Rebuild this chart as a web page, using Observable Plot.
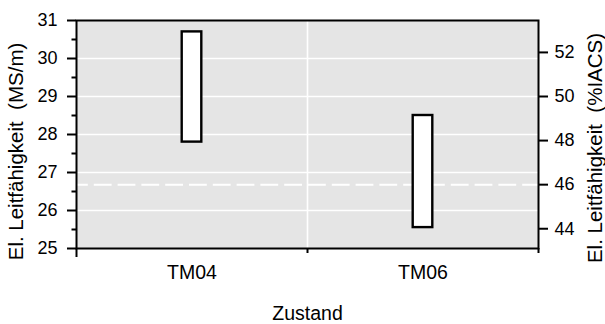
<!DOCTYPE html>
<html>
<head>
<meta charset="utf-8">
<script src="https://cdn.jsdelivr.net/npm/d3@7"></script>
<script src="https://cdn.jsdelivr.net/npm/@observablehq/plot@0.6"></script>
<style>
  html, body { margin: 0; padding: 0; background: #ffffff; }
  #chart svg { display: block; }
</style>
</head>
<body>
<div id="chart"></div>
<script>
// ---- data ----
const categories = ["TM04", "TM06"];
const lowValues = [27.8, 25.55];    // MS/m
const highValues = [30.7, 28.5];    // MS/m
const leftTicks = [25, 26, 27, 28, 29, 30, 31];
const leftMinorTicks = [25.5, 26.5, 27.5, 28.5, 29.5, 30.5];
const rightTicks = [44, 46, 48, 50, 52];   // %IACS
const referenceIACS = 46;                   // dashed line
const msPerIACS = 0.58;                     // 1 %IACS = 0.58 MS/m
const xTitle = "Zustand";
const leftTitle = "El. Leitfähigkeit \u00a0(MS/m)";
const rightTitle = "El. Leitfähigkeit \u00a0(%IACS)";

// ---- layout ----
const W = 605, H = 324;
const mL = 76, mR = 67, mT = 20, mB = 76;
const pxPerUnit = (W - mL - mR) / categories.length;
const barHalf = 9.8 / pxPerUnit;

const table = categories.map((c, i) => ({
  cat: c, pos: i + 0.5, low: lowValues[i], high: highValues[i]
}));
const boundaries = d3.range(categories.length + 1);
const gridVals = leftTicks.slice(1, -1);
const font = "'Liberation Sans', Arial, sans-serif";

const chart = Plot.plot({
  width: W, height: H,
  marginLeft: mL, marginRight: mR, marginTop: mT, marginBottom: mB,
  style: { fontFamily: font, background: "#ffffff", color: "#000000", overflow: "visible" },
  x: { domain: [0, categories.length], axis: null },
  y: { domain: [25, 31], axis: null },
  marks: [
    Plot.frame({ fill: "#e5e5e5" }),
    Plot.ruleY(gridVals, { stroke: "#ffffff", strokeWidth: 1.6 }),
    Plot.ruleX(boundaries.slice(1, -1), { stroke: "#ffffff", strokeWidth: 1.6 }),
    Plot.ruleY([referenceIACS * msPerIACS], {
      stroke: "#ffffff", strokeWidth: 2, strokeDasharray: "17.8,6", strokeDashoffset: 6
    }),
    Plot.rect(table, {
      x1: d => d.pos - barHalf, x2: d => d.pos + barHalf,
      y1: "low", y2: "high",
      fill: "#ffffff", stroke: "#000000", strokeWidth: 2.4
    }),
    Plot.frame({ stroke: "#000000", strokeWidth: 2 }),
    // left axis
    Plot.axisY(leftTicks, {
      anchor: "left", tickSize: 9, tickPadding: 10, fontSize: 18,
      strokeWidth: 2, label: null
    }),
    Plot.axisY(leftMinorTicks, {
      anchor: "left", tickSize: 4.5, fill: "none", strokeWidth: 2, label: null
    }),
    // right axis (%IACS)
    Plot.axisY(rightTicks.map(p => p * msPerIACS), {
      anchor: "right", tickSize: 9, tickPadding: 7, fontSize: 18,
      strokeWidth: 2, label: null,
      tickFormat: v => String(Math.round(v / msPerIACS))
    }),
    // bottom ticks at category boundaries
    Plot.axisX(boundaries.slice(1), {
      anchor: "bottom", tickSize: 5, fill: "none", strokeWidth: 2, label: null
    }),
    Plot.axisX(boundaries.slice(0, 1), {
      anchor: "bottom", tickSize: 9, fill: "none", strokeWidth: 2, label: null
    }),
    // category labels
    Plot.text(table, {
      x: "pos", text: "cat", frameAnchor: "bottom", lineAnchor: "middle", dy: 24,
      fontSize: 19.5, fill: "#000000"
    }),
    Plot.text([xTitle], {
      frameAnchor: "bottom", lineAnchor: "middle", dy: 65.5, fontSize: 19.5, fill: "#000000"
    }),
    Plot.text([leftTitle], {
      frameAnchor: "left", textAnchor: "middle", lineAnchor: "middle",
      rotate: -90, dx: -60.5, dy: 17,
      fontSize: 20.5, fill: "#000000"
    }),
    Plot.text([rightTitle], {
      frameAnchor: "right", textAnchor: "middle", lineAnchor: "middle",
      rotate: -90, dx: 56.5, dy: 13.5,
      fontSize: 20.5, fill: "#000000"
    })
  ]
});

document.getElementById("chart").appendChild(chart);
</script>
</body>
</html>
